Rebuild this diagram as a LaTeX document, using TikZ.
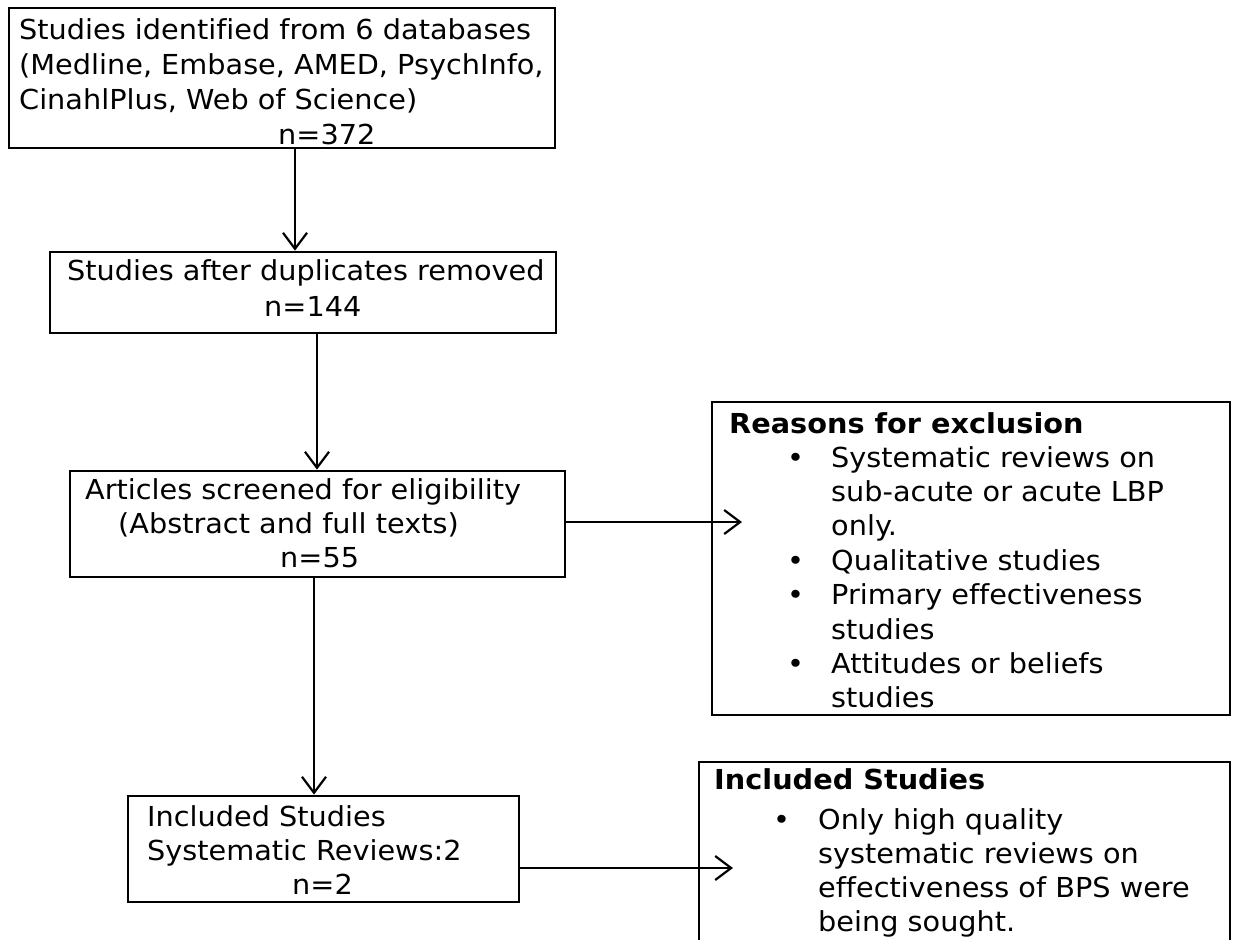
\documentclass[tikz,border=0pt]{standalone}
\usepackage{fontspec}
\setmainfont{DejaVu Sans}[FakeStretch=1.045, Ligatures=NoCommon]
\usetikzlibrary{arrows.meta,fit}
\begin{document}
\begin{tikzpicture}[x=1pt,y=-1pt,
  box/.style={draw=black, line width=2.8pt, inner sep=0pt, fill=none},
  txt/.style={anchor=base west, inner sep=0pt, font=\fontsize{27.5}{34}\selectfont},
  bold/.style={txt, font=\fontsize{27.5}{34}\selectfont\bfseries},
  arr/.style={draw=black, line width=2.2pt, -{Straight Barb[length=16pt,width=24pt,line width=2.2pt]}}]
\useasboundingbox (0,0) rectangle (1235,940);
\clip (0,0) rectangle (1235,940);

% box outlines
\coordinate (b1nw) at (9,8);    \coordinate (b1se) at (555,148);
\coordinate (b2nw) at (50,252); \coordinate (b2se) at (556,333);
\coordinate (b3nw) at (70,471); \coordinate (b3se) at (565,577);
\coordinate (b4nw) at (712,402);\coordinate (b4se) at (1230,715);
\coordinate (b5nw) at (128,796);\coordinate (b5se) at (519,902);
\node[box, fit=(b1nw)(b1se)] (b1) {};
\node[box, fit=(b2nw)(b2se)] (b2) {};
\node[box, fit=(b3nw)(b3se)] (b3) {};
\node[box, fit=(b4nw)(b4se)] (b4) {};
\node[box, fit=(b5nw)(b5se)] (b5) {};
% open-ended box running off the bottom edge
\coordinate (b6nw) at (699,762); \coordinate (b6se) at (1230,960);
\node[box, fit=(b6nw)(b6se)] (b6) {};

% texts
\node[txt] (t1a) at (19,39) {Studies identified from 6 databases};
\node[txt] (t1b) at (19,74) {(Medline, Embase, AMED, PsychInfo,};
\node[txt] (t1c) at (19,109) {CinahlPlus, Web of Science)};
\node[txt] (t1d) at (278,144) {n=372};

\node[txt] (t2a) at (67,280) {Studies after duplicates removed};
\node[txt] (t2b) at (264,316) {n=144};

\node[txt] (t3a) at (85,499) {Articles screened for eligibility};
\node[txt] (t3b) at (118,533) {(Abstract and full texts)};
\node[txt] (t3c) at (280,567) {n=55};

\node[bold] (t4h) at (729,433) {Reasons for exclusion};
\foreach \y [count=\i] in {467,570,604,673}
  \node[txt] (u\i) at (787,\y) {•};
\node[txt] (t4a) at (831,467) {Systematic reviews on};
\node[txt] (t4b) at (831,501) {sub-acute or acute LBP};
\node[txt] (t4c) at (831,535) {only.};
\node[txt] (t4d) at (831,570) {Qualitative studies};
\node[txt] (t4e) at (831,604) {Primary effectiveness};
\node[txt] (t4f) at (831,639) {studies};
\node[txt] (t4g) at (831,673) {Attitudes or beliefs};
\node[txt] (t4i) at (831,707) {studies};

\node[txt] (t5a) at (147,826) {Included Studies};
\node[txt] (t5b) at (147,860) {Systematic Reviews:2};
\node[txt] (t5c) at (292,894) {n=2};

\node[bold] (t6h) at (714,789) {Included Studies};
\node[txt] (v1) at (773,829) {•};
\node[txt] (t6a) at (818,829) {Only high quality};
\node[txt] (t6b) at (818,863) {systematic reviews on};
\node[txt] (t6c) at (818,897) {effectiveness of BPS were};
\node[txt] (t6d) at (818,931) {being sought.};

% connectors
\coordinate (e1) at (742,522);
\coordinate (e2) at (733,868);
\draw[arr] (b1.south -| 295,0) -- (b2.north -| 295,0);
\draw[arr] (b2.south -| 317,0) -- (b3.north -| 317,0);
\draw[arr] (b3.south -| 314,0) -- (b5.north -| 314,0);
\draw[arr] (b3.east |- e1) -- (e1);
\draw[arr] (b5.east |- e2) -- (e2);
\end{tikzpicture}
\end{document}
